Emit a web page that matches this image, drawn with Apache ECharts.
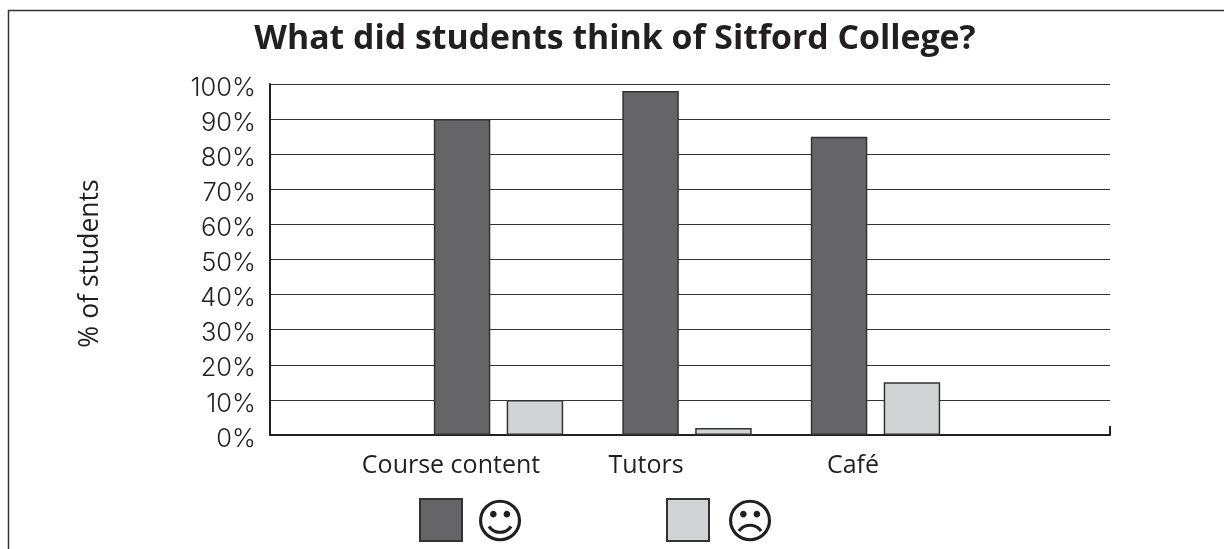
<!DOCTYPE html>
<html><head><meta charset="utf-8">
<style>html,body{margin:0;padding:0;background:#fff}#c{width:1224px;height:549px}</style>
<script src="https://cdn.jsdelivr.net/npm/echarts@6/dist/echarts.min.js"></script>
</head><body><div id="c"></div>
<script>
const titleText = 'What did students think of Sitford College?';
const yAxisName = '% of students';
const categories = ['Course content', 'Tutors', 'Café'];
const happyName = '☺';
const sadName = '☹';
const happyValues = [90, 98, 85];
const sadValues = [10, 2, 15];
const labelPadRight = {'Course content': 95, 'Tutors': 82, 'Café': 45};
const ink = '#231f20';
const labelFont = '"Open Sans"';
const rich = {};
categories.forEach((c, i) => {
  rich['c' + i] = {fontFamily: labelFont, fontWeight: 500, fontSize: 25, color: ink, padding: [0, labelPadRight[c], 0, 0]};
});
const legendBase = {top: 493, itemWidth: 42, itemHeight: 42, icon: 'rect', selectedMode: false, formatter: '{s|{name}}'};
const faceStyle = (leftPad) => ({
  rich: {s: {fontFamily: '"DejaVu Sans"', fontSize: 48, color: ink, padding: [12, 0, 0, leftPad]}}
});
const chart = echarts.init(document.getElementById('c'), null, {renderer: 'canvas'});
const barBase = {type: 'bar', xAxisIndex: 1, yAxisIndex: 1, barWidth: 56.5, barGap: '29%', z: 3};
chart.setOption({
  animation: false,
  backgroundColor: '#fff',
  title: {
    text: titleText, left: 610, top: 17, textAlign: 'center',
    textStyle: {fontFamily: labelFont, fontWeight: 'bold', fontSize: 33.8, color: ink}
  },
  graphic: [{
    type: 'polyline', silent: true,
    shape: {points: [[8.5, 549], [8.5, 10.5], [1224, 10.5]]},
    style: {stroke: '#333', lineWidth: 1.5, fill: null}
  }],
  legend: [
    Object.assign({}, legendBase, {left: 414, data: [happyName], textStyle: faceStyle(8)}),
    Object.assign({}, legendBase, {left: 661, data: [sadName], textStyle: faceStyle(11)})
  ],
  grid: [
    {left: 270, width: 840, top: 84, height: 351},
    {left: 404.25, width: 565.5, top: 84, height: 351}
  ],
  xAxis: [
    {gridIndex: 0, type: 'category', data: [''],
     axisLine: {lineStyle: {color: ink, width: 2}},
     axisTick: {show: true, inside: true, length: 9, lineStyle: {color: ink, width: 2}},
     axisLabel: {show: false}},
    {gridIndex: 1, type: 'category', data: categories,
     axisLine: {show: false}, axisTick: {show: false},
     axisLabel: {margin: 18, formatter: (v) => `{c${categories.indexOf(v)}|${v}}`, rich}}
  ],
  yAxis: [
    {gridIndex: 0, type: 'value', min: 0, max: 100, interval: 10,
     name: yAxisName, nameLocation: 'middle', nameGap: 166, nameRotate: 90,
     nameTextStyle: {fontFamily: labelFont, fontWeight: 500, fontSize: 26.5, color: ink, padding: [0, 8, 0, 0]},
     axisLine: {show: true, lineStyle: {color: ink, width: 2}},
     axisTick: {show: false},
     axisLabel: {margin: 14, formatter: '{value}%', fontFamily: 'Inter', fontWeight: 300, fontSize: 25.5, color: ink, verticalAlign: 'top', lineHeight: 8},
     splitLine: {show: true, lineStyle: {color: '#333', width: 1}}},
    {gridIndex: 1, type: 'value', min: 0, max: 100, interval: 10, show: false, splitLine: {show: false}}
  ],
  series: [
    Object.assign({}, barBase, {name: happyName, data: happyValues,
      itemStyle: {color: '#656567', borderColor: '#333', borderWidth: 1.5}}),
    Object.assign({}, barBase, {name: sadName, data: sadValues,
      itemStyle: {color: '#d1d3d4', borderColor: '#333', borderWidth: 1.5}})
  ]
});
</script></body></html>
